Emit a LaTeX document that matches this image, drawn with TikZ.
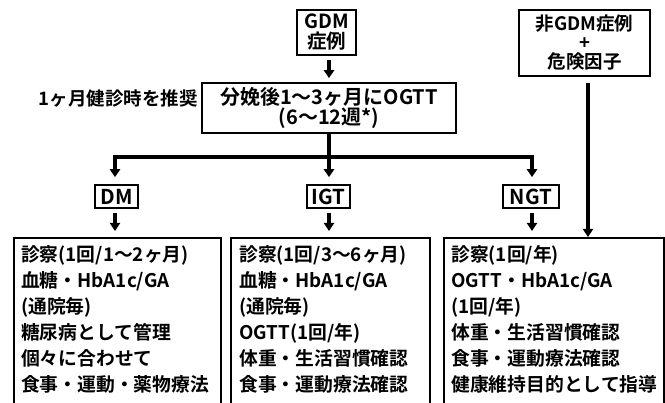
\documentclass[tikz,border=0pt]{standalone}
\usepackage{fontspec}
\setmainfont{Noto Sans CJK JP}[BoldFont={Noto Sans CJK JP Bold}]
\usetikzlibrary{arrows.meta}
\begin{document}
\begin{tikzpicture}[x=1pt,y=-1pt,
  box/.style={draw, line width=1.6pt, inner sep=0pt, align=center, font=\bfseries},
  lbl/.style={box, font=\bfseries\fontsize{20.5}{20}\selectfont, minimum height=23pt},
  big/.style={draw, line width=1.6pt, inner sep=0pt, anchor=north west, minimum height=180pt},
  btxt/.style={anchor=north west, inner sep=0pt, align=left, font=\bfseries\fontsize{18.8}{26}\selectfont},
  arr/.style={line width=3.2pt, -{Triangle[width=10pt,length=8pt]}},
  bar/.style={line width=3.2pt}]
\useasboundingbox (0,0) rectangle (665,403);
\clip (0,0) rectangle (665,403);
\fill[white] (0,0) rectangle (665,403);

% top nodes
\node[box, minimum width=59pt, minimum height=45pt, font=\bfseries\fontsize{19.5}{20}\selectfont] (gdm) at (326.5,32.5) {GDM\\症例};
\node[box, minimum width=254pt, minimum height=50pt, font=\bfseries\fontsize{20}{20}\selectfont] (ogtt) at (329,108) {分娩後1～3ヶ月にOGTT\\(6～12週*)};
\node[anchor=east, inner sep=0pt, font=\bfseries\fontsize{18.5}{20}\selectfont] (note) at (198,99) {1ヶ月健診時を推奨};
\node[box, minimum width=131pt, minimum height=66pt, font={\bfseries\fontsize{18.5}{19}\selectfont\lineskiplimit=-30pt}] (ngdm) at (584.5,43) {非GDM症例\\+\\危険因子};

% labels
\node[lbl, minimum width=43pt] (dm) at (116.5,196.5) {DM};
\node[lbl, minimum width=43pt] (igt) at (328.5,196.5) {IGT};
\node[lbl, minimum width=56pt] (ngt) at (531,196.5) {NGT};

% bottom boxes
\node[big, minimum width=207pt] (dmbox) at (13,237) {};
\node[big, minimum width=199pt] (igtbox) at (230,237) {};
\node[big, minimum width=220pt] (ngtbox) at (443,237) {};

\node[btxt] (dmtxt) at (21,245) {診察(1回/1～2ヶ月)\\血糖・HbA1c/GA\\(通院毎)\\糖尿病として管理\\個々に合わせて\\食事・運動・薬物療法};
\node[btxt] (igttxt) at (239,245) {診察(1回/3～6ヶ月)\\血糖・HbA1c/GA\\(通院毎)\\OGTT(1回/年)\\体重・生活習慣確認\\食事・運動療法確認};
\node[btxt] (ngttxt) at (451,245) {診察(1回/年)\\OGTT・HbA1c/GA\\(1回/年)\\体重・生活習慣確認\\食事・運動療法確認\\健康維持目的として指導};

% connectors
\coordinate (split) at (329,157);
\coordinate (barL) at (115,157);
\coordinate (barR) at (532,157);
\coordinate (rl) at (588,83);

\draw[arr, shorten <=4pt, shorten >=4pt] (gdm.south -| split) -- (ogtt.north -| split);
\draw[bar] (ogtt.south -| split) -- (split);
\draw[bar, line cap=rect] (barL) -- (barR);
\draw[arr, shorten >=7pt] (barL) -- (barL |- dm.north);
\draw[arr, shorten >=7pt] (split) -- (split |- igt.north);
\draw[arr, shorten >=7pt] (barR) -- (barR |- ngt.north);
\draw[arr, shorten <=4pt, shorten >=6pt] (dm.south -| barL) -- (barL |- dmbox.north);
\draw[arr, shorten <=4pt, shorten >=6pt] (igt.south -| split) -- (split |- igtbox.north);
\draw[arr, shorten <=4pt, shorten >=6pt] (ngt.south -| barR) -- (barR |- ngtbox.north);
\draw[arr, line width=3.6pt] (rl) -- (rl |- ngtbox.north);
\end{tikzpicture}
\end{document}
